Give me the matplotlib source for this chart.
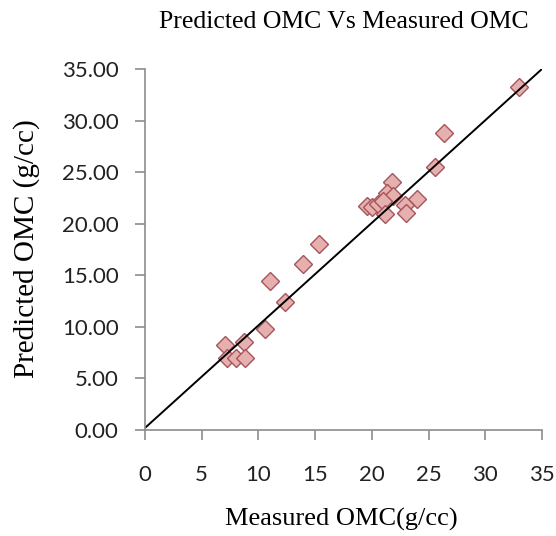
import matplotlib.pyplot as plt
import numpy as np

# measured vs predicted OMC (g/cc)
measured = [33.0, 26.4, 25.6, 21.8, 21.3, 21.9, 24.0, 19.55, 20.0, 20.5, 21.0,
            22.9, 23.0, 21.2, 15.3, 13.9, 11.0, 12.3, 10.6, 7.05, 8.76, 7.26,
            8.0, 8.8]
predicted = [33.3, 28.8, 25.5, 24.0, 23.0, 22.7, 22.4, 21.7, 21.6, 21.9, 22.2,
             21.8, 21.0, 20.9, 18.0, 16.1, 14.4, 12.4, 9.8, 8.25, 8.57, 6.95,
             7.0, 6.95]

x_ticks = [0, 5, 10, 15, 20, 25, 30, 35]
y_ticks = [0, 5, 10, 15, 20, 25, 30, 35]

fig = plt.figure(figsize=(5.56, 5.36), dpi=100)
ax = fig.add_axes([0.2608, 0.1978, 0.714, 0.6735])

ax.plot(measured, predicted, linestyle='none', marker='D', markersize=9.5,
        markerfacecolor='#e6b0ae', markeredgecolor='#a4545a', markeredgewidth=1)
# 1:1 line
ax.plot([0, 35], [0.2, 35], color='black', linewidth=1.4)

ax.set_xlim(0, 35)
ax.set_ylim(0, 35)
ax.set_xticks(x_ticks)
ax.set_yticks(y_ticks)
ax.set_yticklabels(['%.2f' % v for v in y_ticks])

for s in ['top', 'right']:
    ax.spines[s].set_visible(False)
for s in ['left', 'bottom']:
    ax.spines[s].set_color('#8c8c8c')
    ax.spines[s].set_linewidth(1.2)

ax.tick_params(axis='both', colors='#8c8c8c', length=7, width=1.2,
               labelcolor='#222222', labelsize=16)
ax.tick_params(axis='x', pad=18)
ax.tick_params(axis='y', pad=12)
for lab in ax.get_xticklabels() + ax.get_yticklabels():
    lab.set_family('Lato')

fig.text(0.618, 0.959, 'Predicted OMC Vs Measured OMC', ha='center', va='center',
         family='Liberation Serif', fontsize=18.5)
fig.text(0.614, 0.030, 'Measured OMC(g/cc)', ha='center', va='center',
         family='Liberation Serif', fontsize=19)
fig.text(0.047, 0.537, 'Predicted OMC (g/cc)', ha='center', va='center',
         rotation=90, family='Liberation Serif', fontsize=21)

fig.savefig('out.png', dpi=100)
